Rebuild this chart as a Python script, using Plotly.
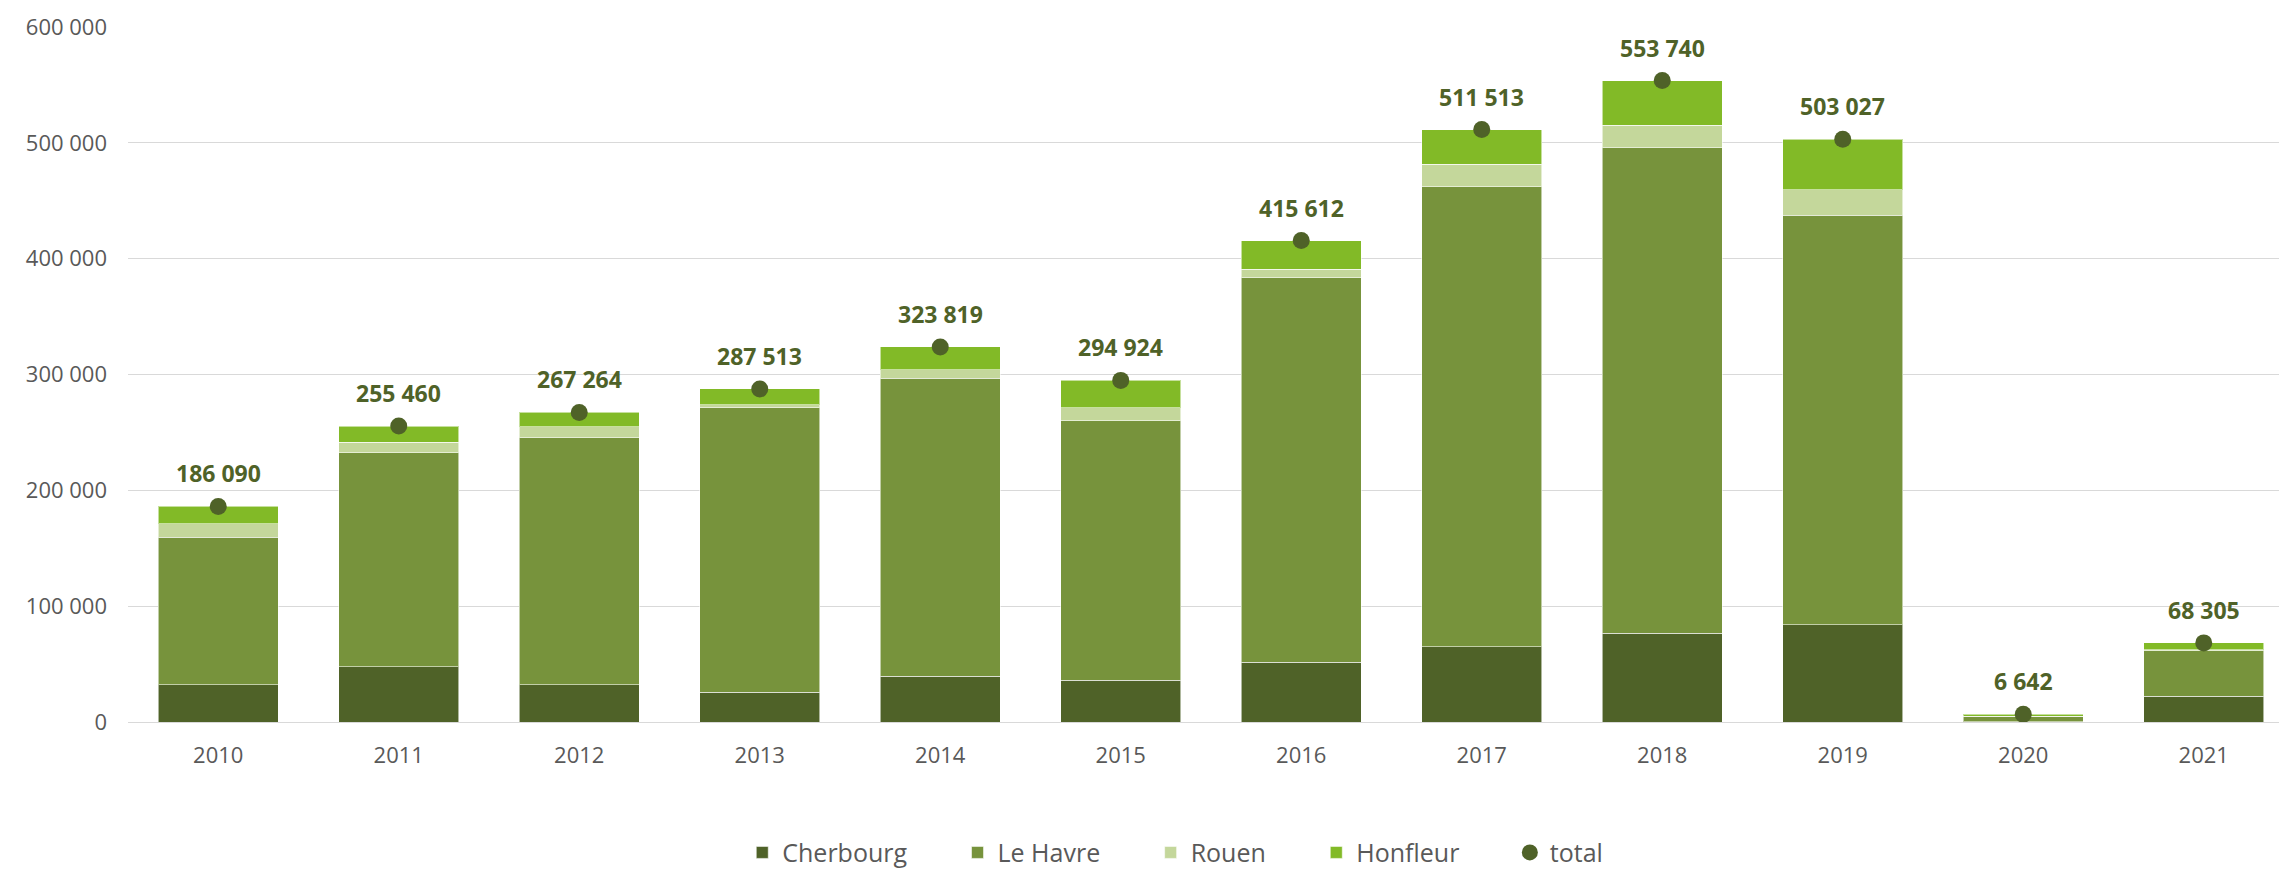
import plotly.graph_objects as go

years = ["2010", "2011", "2012", "2013", "2014", "2015", "2016", "2017", "2018", "2019", "2020", "2021"]
cherbourg = [32000, 47700, 32000, 25700, 39700, 36100, 51700, 64900, 76600, 83800, 400, 22400]
le_havre = [127500, 184900, 213300, 245600, 256900, 224000, 331900, 397200, 419200, 353500, 4700, 39300]
rouen = [11800, 8800, 9700, 2800, 7600, 11200, 7200, 19300, 19600, 22000, 0, 500]
honfleur = [14790, 14060, 12264, 13413, 19619, 23624, 24812, 30113, 38340, 43727, 1542, 6105]
total = [186090, 255460, 267264, 287513, 323819, 294924, 415612, 511513, 553740, 503027, 6642, 68305]

series = [
    ("Cherbourg", cherbourg, "#4f6228"),
    ("Le Havre", le_havre, "#77933c"),
    ("Rouen", rouen, "#c4d79b"),
    ("Honfleur", honfleur, "#82ba27"),
]

FONT = "Open Sans"
GREY = "#595959"
DARK = "#4f6228"
PAD = "\u00a0" * 7  # extra spacing between legend entries

fig = go.Figure()
for name, vals, col in series:
    fig.add_trace(go.Bar(
        x=years, y=vals, name=name + PAD,
        marker=dict(color=col, line=dict(color="rgba(255,255,255,0.55)", width=1)),
    ))

fig.add_trace(go.Scatter(
    x=years, y=total, name="total", mode="markers",
    marker=dict(color=DARK, size=17, symbol="circle"),
))

# value labels above the total markers (category index positions)
for i, v in enumerate(total):
    fig.add_annotation(
        x=i, y=v, xref="x", yref="y", text=f"{v:,}".replace(",", " "),
        showarrow=False, yanchor="middle", xanchor="center", yshift=33,
        font=dict(family=FONT, size=23, color=DARK, weight="bold"),
    )

fig.update_layout(
    width=2287, height=869,
    barmode="stack", bargap=0.335,
    plot_bgcolor="white", paper_bgcolor="white",
    margin=dict(l=120, r=1, t=19, b=153),
    separators=", ",
    font=dict(family=FONT, size=22, color=GREY),
    showlegend=True,
    legend=dict(
        orientation="h", x=0.4835, xanchor="center", y=-0.188, yanchor="middle",
        font=dict(family=FONT, size=25, color=GREY),
        traceorder="normal",
    ),
    xaxis=dict(
        type="category", categoryorder="array", categoryarray=years,
        range=[-0.5, len(years) - 0.5],
        showgrid=False, showline=False, ticks="",
        tickfont=dict(family=FONT, size=22, color=GREY),
        ticklabelstandoff=18,
    ),
    yaxis=dict(
        range=[0, 600000], dtick=100000, tickformat=",d",
        showgrid=True, gridcolor="#d9d9d9", gridwidth=1.4,
        zeroline=True, zerolinecolor="#d9d9d9", zerolinewidth=1.4,
        showline=False, ticks="",
        tickfont=dict(family=FONT, size=22, color=GREY),
        ticklabelstandoff=20,
    ),
)

fig.write_html("out.html")
